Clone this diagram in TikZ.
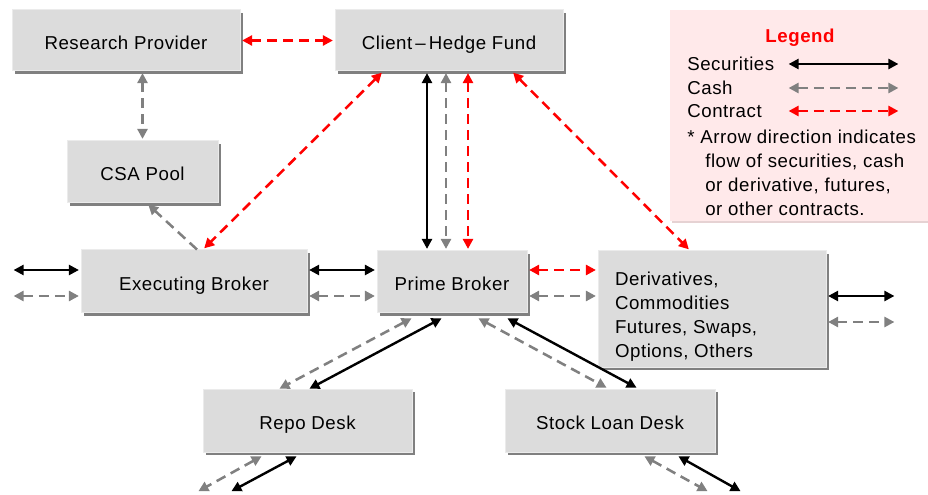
\documentclass[tikz,border=0pt]{standalone}
\usepackage{fontspec}
\setmainfont{Liberation Sans}[LetterSpace=3]
\usetikzlibrary{arrows.meta,shadows,calc}
\definecolor{boxfill}{HTML}{DCDCDC}
\definecolor{boxshadow}{HTML}{808080}
\definecolor{boxedge}{HTML}{EBEBEB}
\definecolor{cashgray}{HTML}{808080}
\definecolor{legfill}{HTML}{FFE9EA}
\definecolor{legshadow}{HTML}{E6D2D3}
\definecolor{contractred}{HTML}{FF0000}
\begin{document}
\begin{tikzpicture}[x=0.75pt,y=-0.75pt,
  font=\fontsize{14}{18}\selectfont,
  box/.style={rectangle, fill=boxfill, draw=boxedge, line width=0.75pt, inner sep=0pt,
     drop shadow={shadow xshift=2.25pt, shadow yshift=-2.25pt, fill=boxshadow, opacity=1}},
  onebox/.style={box, text height=13.5pt, text depth=0.5pt},
  sec/.style={line width=1.8pt, draw=black, shorten >=1.2pt, shorten <=1.2pt,
     {Triangle[length=7.5pt,width=7.5pt]}-{Triangle[length=7.5pt,width=7.5pt]}},
  cash/.style={line width=1.9pt, draw=cashgray, dash pattern=on 7.5pt off 4.5pt,
     shorten >=1.2pt, shorten <=1.2pt,
     {Triangle[length=7.5pt,width=7.5pt]}-{Triangle[length=7.5pt,width=7.5pt]}},
  cashone/.style={line width=1.9pt, draw=cashgray, dash pattern=on 7.5pt off 4.5pt,
     shorten >=1.2pt, -{Triangle[length=7.5pt,width=7.5pt]}},
  con/.style={line width=1.9pt, draw=contractred, dash pattern=on 7.5pt off 4.5pt,
     shorten >=1.2pt, shorten <=1.2pt,
     {Triangle[length=7.5pt,width=7.5pt]}-{Triangle[length=7.5pt,width=7.5pt]}}
]
\useasboundingbox (0,0) rectangle (928,495);

% legend
\node[rectangle, fill=legfill, draw=none, inner sep=0pt,
      drop shadow={shadow xshift=1.5pt, shadow yshift=-1.5pt, fill=legshadow, opacity=1},
      minimum width=194.25pt, minimum height=158.25pt] (legend) at (799.5,115.5) {};
\node[font=\fontsize{14}{18}\selectfont\bfseries, text=contractred] (legtitle) at (800,38) {Legend};
\node[anchor=west, inner sep=0pt] (lsec) at (687,64) {Securities};
\node[anchor=west, inner sep=0pt] (lcash) at (687,88) {Cash};
\node[anchor=west, inner sep=0pt] (lcon) at (687,111) {Contract};
\coordinate (la1) at (787,64); \coordinate (lb1) at (900,64);
\coordinate (la2) at (787,88); \coordinate (lb2) at (900,88);
\coordinate (la3) at (787,111); \coordinate (lb3) at (900,111);
\draw[sec] (la1) -- (lb1);
\draw[cash] (la2) -- (lb2);
\draw[con] (la3) -- (lb3);
\node[anchor=north west, align=left, inner sep=0pt] (lnote) at (687,130)
  {* Arrow direction indicates\\
   \hspace*{13.5pt}flow of securities, cash\\
   \hspace*{13.5pt}or derivative, futures,\\
   \hspace*{13.5pt}or other contracts.};

% boxes
\node[onebox, minimum width=171pt, minimum height=45.75pt] (research) at (126,40.5) {Research Provider};
\node[onebox, minimum width=171pt, minimum height=45.75pt] (client) at (449,40.5) {Client\,--\,Hedge Fund};
\node[onebox, minimum width=113.25pt, minimum height=46.5pt] (csa) at (142.5,172) {CSA Pool};
\node[onebox, minimum width=169.5pt, minimum height=47.25pt] (exec) at (194,281.5) {Executing Broker};
\node[onebox, minimum width=112.5pt, minimum height=46.5pt] (prime) at (452,282) {Prime Broker};
\node[box, minimum width=171pt, minimum height=87pt] (deriv) at (712,309)
  {\parbox[c]{145.5pt}{\raggedright\vspace*{12pt}Derivatives,\\Commodities\\Futures, Swaps,\\Options, Others}};
\node[onebox, minimum width=156.75pt, minimum height=47.25pt] (repo) at (307.5,420.5) {Repo Desk};
\node[onebox, minimum width=157.5pt, minimum height=47.25pt] (stock) at (610,420.5) {Stock Loan Desk};

% free ends
\coordinate (el1) at (12,270);
\coordinate (el2) at (12,296);
\coordinate (dr1) at (896,296);
\coordinate (dr2) at (896,322);
\coordinate (rg1) at (197,492);
\coordinate (rb1) at (230,492);
\coordinate (sg1) at (709,492);
\coordinate (sb1) at (742,492);

% top connectors
\draw[con] (research.east) -- (client.west);
\draw[cash] (research.south -| csa.north) -- (csa.north);
\draw[cashone] ($(exec.north)+(3,0)$) -- ($(csa.south)+(4.5,0)$);
\draw[con] ($(client.south)+(-66,0)$) -- ($(exec.north)+(9,0)$);
\draw[con] ($(client.south)+(63,0)$) -- ($(deriv.north)+(-22,0)$);
\draw[sec] ($(client.south)+(-22,0)$) -- ($(prime.north)+(-25,0)$);
\draw[cash] ($(client.south)+(-3,0)$) -- ($(prime.north)+(-6,0)$);
\draw[con] ($(client.south)+(19,0)$) -- ($(prime.north)+(16,0)$);

% middle row
\draw[sec] (el1) -- ($(exec.west)+(0,-11.5)$);
\draw[cash] (el2) -- ($(exec.west)+(0,14.5)$);
\draw[sec] ($(exec.east)+(0,-11.5)$) -- ($(prime.west)+(0,-12)$);
\draw[cash] ($(exec.east)+(0,14.5)$) -- ($(prime.west)+(0,14)$);
\draw[con] ($(prime.east)+(0,-12)$) -- ($(deriv.west)+(0,-39)$);
\draw[cash] ($(prime.east)+(0,14)$) -- ($(deriv.west)+(0,-13)$);
\draw[sec] ($(deriv.east)+(0,-13)$) -- (dr1);
\draw[cash] ($(deriv.east)+(0,13)$) -- (dr2);

% lower diagonals
\draw[cash] ($(prime.south)+(-39,4)$) -- ($(repo.north)+(-29.5,1)$);
\draw[sec] ($(prime.south)+(-9,4)$) -- ($(repo.north)+(0.5,1)$);
\draw[cash] ($(prime.south)+(25,4)$) -- ($(stock.north)+(-2,0)$);
\draw[sec] ($(prime.south)+(54,4)$) -- ($(stock.north)+(28,0)$);
\draw[cash] ($(repo.south)+(-44.5,3)$) -- (rg1);
\draw[sec] ($(repo.south)+(-9.5,3)$) -- (rb1);
\draw[cash] ($(stock.south)+(33,3)$) -- (sg1);
\draw[sec] ($(stock.south)+(67,3)$) -- (sb1);
\end{tikzpicture}
\end{document}
